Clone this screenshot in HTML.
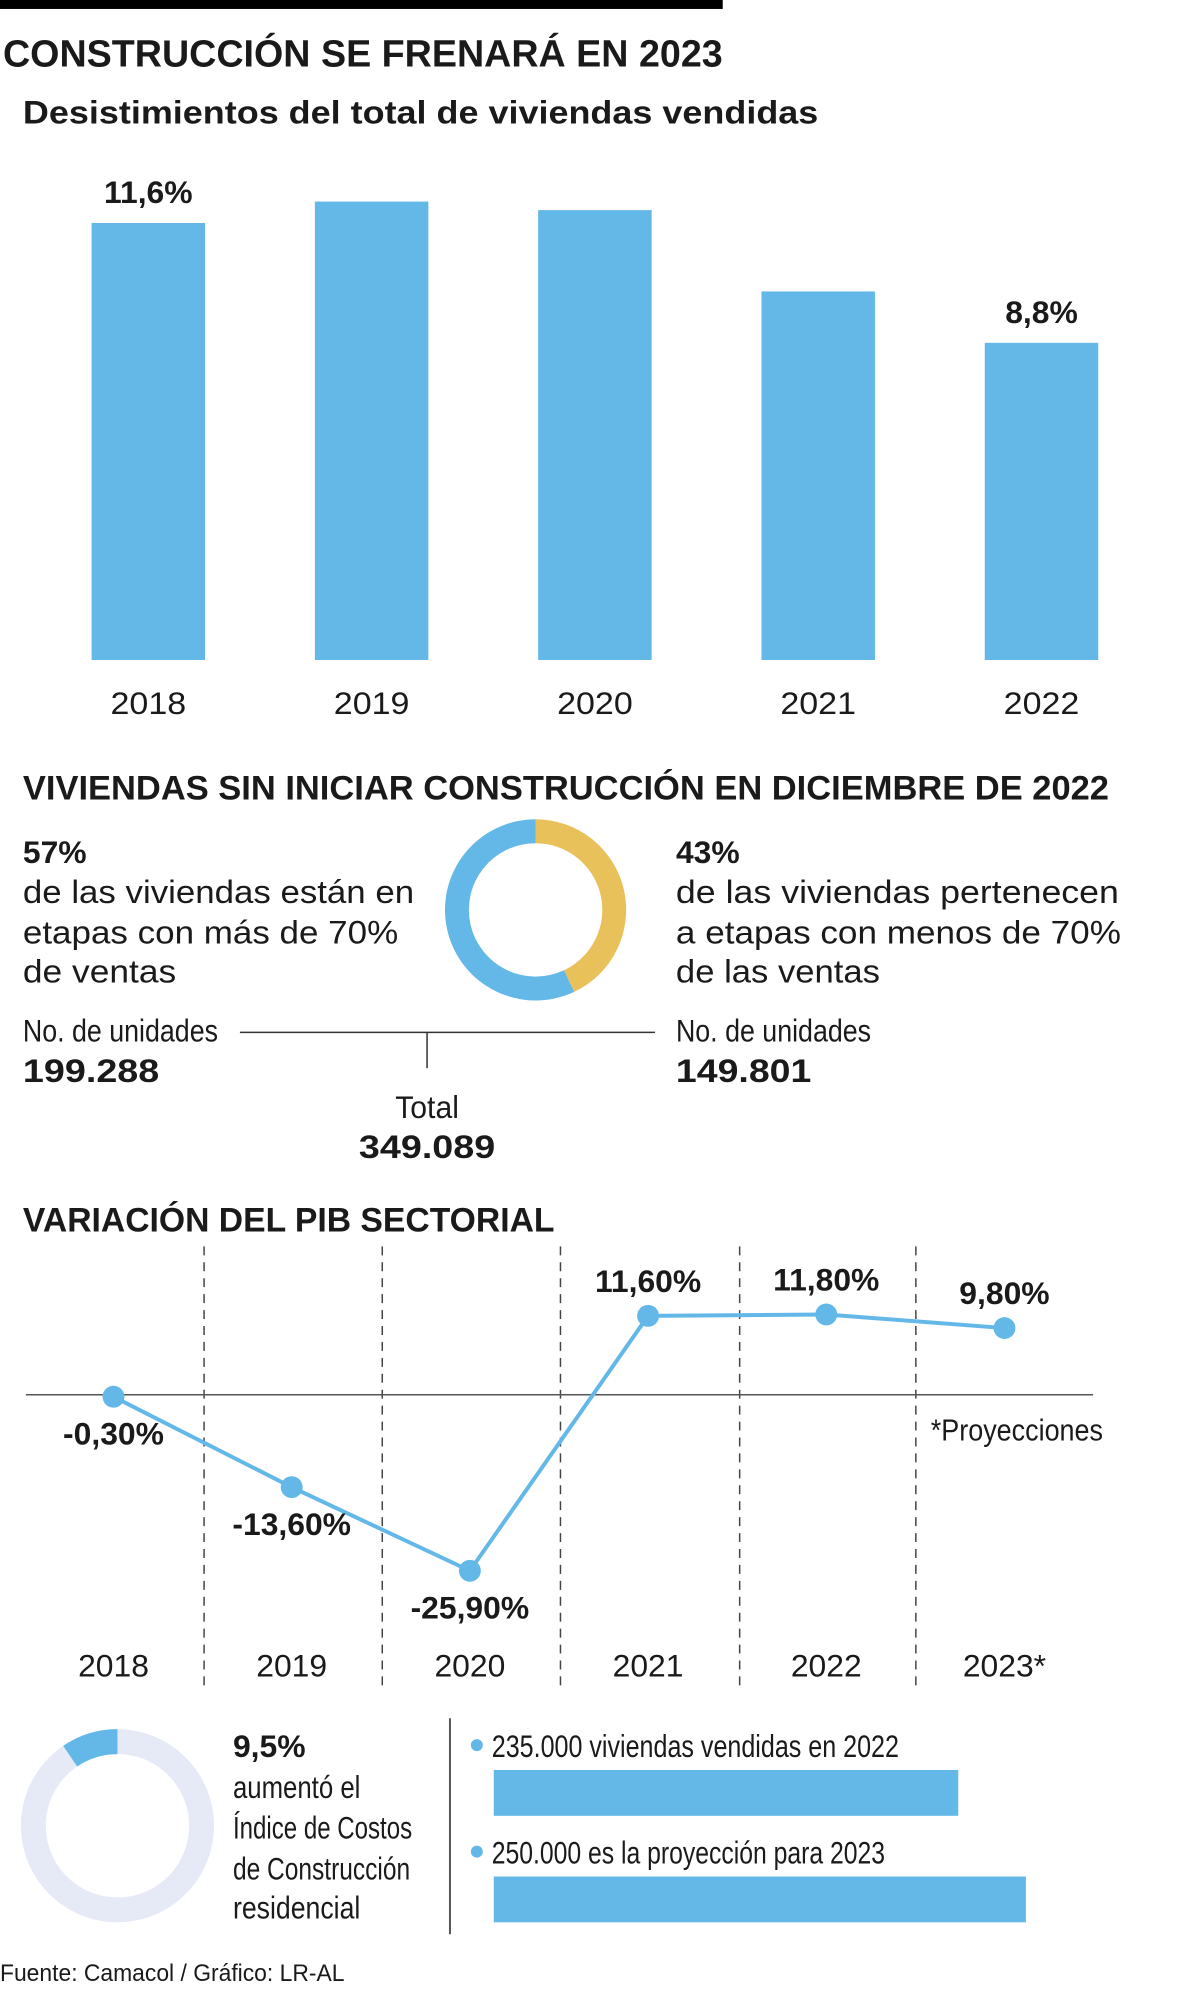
<!DOCTYPE html>
<html><head><meta charset="utf-8"><style>
html,body{margin:0;padding:0;background:#fff;}
svg{display:block;}
text{font-family:"Liberation Sans",sans-serif;fill:#1a1a1a;}
.b{font-weight:bold;}
</style></head><body>
<svg id="s" width="1200" height="1997" viewBox="0 0 1200 1997" xmlns="http://www.w3.org/2000/svg">
<g transform="scale(0.9955)">
<rect x="0" y="0" width="726" height="9" fill="#000"/>
<text class="b" x="3" y="67" font-size="38" textLength="723" lengthAdjust="spacingAndGlyphs">CONSTRUCCIÓN SE FRENARÁ EN 2023</text>
<text class="b" x="23" y="124" font-size="33" textLength="799" lengthAdjust="spacingAndGlyphs">Desistimientos del total de viviendas vendidas</text>
<g id="bars"></g>

<text class="b" x="23" y="803" font-size="34" textLength="1091" lengthAdjust="spacingAndGlyphs">VIVIENDAS SIN INICIAR CONSTRUCCIÓN EN DICIEMBRE DE 2022</text>
<text class="b" x="23" y="867" font-size="32">57%</text>
<g font-size="33">
<text x="23" y="907" textLength="393" lengthAdjust="spacingAndGlyphs">de las viviendas están en</text>
<text x="23" y="948" textLength="377" lengthAdjust="spacingAndGlyphs">etapas con más de 70%</text>
<text x="23" y="987" textLength="154" lengthAdjust="spacingAndGlyphs">de ventas</text>
</g>
<text class="b" x="679" y="867" font-size="32">43%</text>
<g font-size="33">
<text x="679" y="907" textLength="445" lengthAdjust="spacingAndGlyphs">de las viviendas pertenecen</text>
<text x="679" y="948" textLength="447" lengthAdjust="spacingAndGlyphs">a etapas con menos de 70%</text>
<text x="679" y="987" textLength="205" lengthAdjust="spacingAndGlyphs">de las ventas</text>
</g>
<g id="donut1"></g>
<line x1="241" y1="1037" x2="658" y2="1037" stroke="#333" stroke-width="1.5"/>
<line x1="429" y1="1037" x2="429" y2="1073" stroke="#333" stroke-width="1.5"/>
<text x="23" y="1046" font-size="32" textLength="196" lengthAdjust="spacingAndGlyphs">No. de unidades</text>
<text class="b" x="23" y="1087" font-size="33" textLength="137" lengthAdjust="spacingAndGlyphs">199.288</text>
<text x="679" y="1046" font-size="32" textLength="196" lengthAdjust="spacingAndGlyphs">No. de unidades</text>
<text class="b" x="679" y="1087" font-size="33" textLength="136" lengthAdjust="spacingAndGlyphs">149.801</text>
<text x="429" y="1123" font-size="32" text-anchor="middle" textLength="64" lengthAdjust="spacingAndGlyphs">Total</text>
<text class="b" x="429" y="1163" font-size="33" text-anchor="middle" textLength="137" lengthAdjust="spacingAndGlyphs">349.089</text>

<text class="b" x="23" y="1237" font-size="34" textLength="534" lengthAdjust="spacingAndGlyphs">VARIACIÓN DEL PIB SECTORIAL</text>
<g id="line"></g>
<text x="935" y="1447" font-size="31" textLength="173" lengthAdjust="spacingAndGlyphs">*Proyecciones</text>

<g id="donut2"></g>
<text class="b" x="234" y="1765" font-size="32">9,5%</text>
<g font-size="32">
<text x="234" y="1806" textLength="128" lengthAdjust="spacingAndGlyphs">aumentó el</text>
<text x="234" y="1847" textLength="180" lengthAdjust="spacingAndGlyphs">Índice de Costos</text>
<text x="234" y="1888" textLength="178" lengthAdjust="spacingAndGlyphs">de Construcción</text>
<text x="234" y="1927" textLength="128" lengthAdjust="spacingAndGlyphs">residencial</text>
</g>
<line x1="452" y1="1726" x2="452" y2="1943" stroke="#555" stroke-width="2"/>
<g id="hbars"></g>
<text x="0" y="1990" font-size="24" textLength="346" lengthAdjust="spacingAndGlyphs">Fuente: Camacol / Gráfico: LR-AL</text>
</g>
</svg>
<script>
const barYears = ["2018","2019","2020","2021","2022"];
const barValues = [11.6, 12.1, 11.9, 10.0, 8.8];
const barLabels = ["11,6%", "", "", "", "8,8%"];

const pibYears = ["2018","2019","2020","2021","2022","2023*"];
const pibValues = [-0.3, -13.6, -25.9, 11.6, 11.8, 9.8];
const pibLabels = ["-0,30%","-13,60%","-25,90%","11,60%","11,80%","9,80%"];

const sharePercents = [57, 43];
const costIndexPercent = [9.5];

const salesValues = [235000, 250000];
const salesLabels = ["235.000 viviendas vendidas en 2022", "250.000 es la proyección para 2023"];

const NS = "http://www.w3.org/2000/svg";
const BLUE = "#63B8E8";
function mk(tag, attrs, parent) {
  const e = document.createElementNS(NS, tag);
  for (const k in attrs) e.setAttribute(k, attrs[k]);
  parent.appendChild(e);
  return e;
}

(function(){
  const g = document.getElementById('bars');
  const base = 663, pxPerUnit = 43.0, minV = 1.39;
  const y = v => base - (v - minV) * pxPerUnit;
  const x0 = 92, step = 224.3, bw = 114;
  const x = i => x0 + i * step;
  barValues.forEach((v, i) => {
    const r = mk('rect', {x: x(i), y: y(v), width: bw, height: base - y(v), fill: BLUE}, g);
    
    
    const t = mk('text', {x: x(i) + bw/2, y: 717, 'font-size': 32, 'text-anchor': 'middle', textLength: 76, lengthAdjust: 'spacingAndGlyphs'}, g);
    t.textContent = barYears[i];
    
    
    if (barLabels[i]) {
      const l = mk('text', {x: x(i) + bw/2, y: y(v) - 20, 'font-size': 32, 'font-weight': 'bold', 'text-anchor': 'middle'}, g);
      l.textContent = barLabels[i];
      
      
    }
  });
})();

function arc(cx, cy, rO, rI, a0, a1) {
  const p = (r, a) => [cx + r * Math.sin(a), cy - r * Math.cos(a)];
  const large = Math.abs(a1 - a0) > Math.PI ? 1 : 0;
  const sw = a1 > a0 ? 1 : 0;
  const [x1,y1] = p(rO,a0), [x2,y2] = p(rO,a1), [x3,y3] = p(rI,a1), [x4,y4] = p(rI,a0);
  return `M${x1},${y1} A${rO},${rO} 0 ${large} ${sw} ${x2},${y2} L${x3},${y3} A${rI},${rI} 0 ${large} ${1-sw} ${x4},${y4} Z`;
}

(function(){
  const g = document.getElementById('donut1');
  const total = sharePercents[0] + sharePercents[1];
  const aY = sharePercents[1] / total * 2 * Math.PI;
  const y = mk('path', {d: arc(538, 914, 91, 67, 0, aY), fill: '#E8C15A'}, g);
  
  
  const b = mk('path', {d: arc(538, 914, 91, 67, aY, 2*Math.PI - 0.0001), fill: BLUE}, g);
  
  
})();

(function(){
  const g = document.getElementById('line');
  const zeroY = 1401, k = 6.83;
  const y = v => zeroY - v * k;
  const x0 = 114, step = 179;
  const x = i => x0 + i * step;
  [205,384,563,743,920].forEach(xx => {
    const d = mk('line', {x1: xx, y1: 1252, x2: xx, y2: 1697, stroke: '#444', 'stroke-width': 1.5, 'stroke-dasharray': '9 7'}, g);
    
    
  });
  const z = mk('line', {x1: 26, y1: zeroY, x2: 1098, y2: zeroY, stroke: '#555', 'stroke-width': 1.5}, g);
  
  
  const pts = pibValues.map((v, i) => x(i) + ',' + y(v)).join(' ');
  const pl = mk('polyline', {points: pts, fill: 'none', stroke: BLUE, 'stroke-width': 4}, g);
  
  
  pibValues.forEach((v, i) => {
    const c = mk('circle', {cx: x(i), cy: y(v), r: 11, fill: BLUE}, g);
    
    
    const ly = v < 0 ? y(v) + 48 : y(v) - 24;
    const l = mk('text', {x: x(i), y: ly, 'font-size': 32, 'font-weight': 'bold', 'text-anchor': 'middle'}, g);
    l.textContent = pibLabels[i];
    
    
    const t = mk('text', {x: x(i), y: 1684, 'font-size': 32, 'text-anchor': 'middle'}, g);
    t.textContent = pibYears[i];
    
    
  });
})();

(function(){
  const g = document.getElementById('donut2');
  const a = costIndexPercent[0] / 100 * 2 * Math.PI;
  const bg = mk('path', {d: arc(118, 1834, 97, 72, 0.0001, 2*Math.PI - 0.0001), fill: '#E6EAF6'}, g);
  
  
  const s = mk('path', {d: arc(118, 1834, 97, 72, 0, -a), fill: BLUE}, g);
  
  
})();

(function(){
  const g = document.getElementById('hbars');
  const x0 = 496, v0 = 132000, k = 4.53 / 1000;
  const w = v => (v - v0) * k;
  const rowY = [1753, 1860];
  salesValues.forEach((v, i) => {
    const d = mk('circle', {cx: 479, cy: rowY[i], r: 6, fill: BLUE}, g);
    
    
    const t = mk('text', {x: 494, y: rowY[i] + 12, 'font-size': 32, textLength: i === 0 ? 409 : 395, lengthAdjust: 'spacingAndGlyphs'}, g);
    t.textContent = salesLabels[i];
    
    
    const r = mk('rect', {x: x0, y: rowY[i] + 25, width: w(v), height: 46, fill: BLUE}, g);
    
    
  });
})();
</script>
</body></html>
